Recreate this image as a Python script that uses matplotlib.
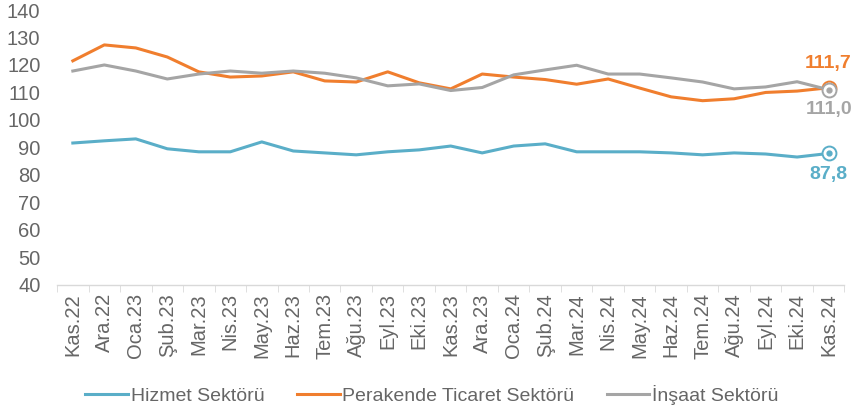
import matplotlib
matplotlib.use("Agg")
import matplotlib.pyplot as plt

plt.rcParams["font.family"] = ["Liberation Sans", "DejaVu Sans"]

months = ["Kas.22", "Ara.22", "Oca.23", "Şub.23", "Mar.23", "Nis.23", "May.23", "Haz.23",
          "Tem.23", "Ağu.23", "Eyl.23", "Eki.23", "Kas.23", "Ara.23", "Oca.24", "Şub.24",
          "Mar.24", "Nis.24", "May.24", "Haz.24", "Tem.24", "Ağu.24", "Eyl.24", "Eki.24", "Kas.24"]

hizmet = [91.6, 92.4, 93.1, 89.5, 88.4, 88.4, 92.0, 88.7, 88.0, 87.3, 88.4, 89.1, 90.5,
          88.0, 90.5, 91.3, 88.4, 88.4, 88.4, 88.0, 87.3, 88.0, 87.6, 86.5, 87.8]
perakende = [121.5, 127.3, 126.2, 122.9, 117.5, 115.6, 116.0, 117.5, 114.2, 113.8, 117.5, 113.5, 111.3,
             116.7, 115.6, 114.7, 113.0, 114.9, 111.6, 108.4, 107.0, 107.7, 110.0, 110.5, 111.7]
insaat = [117.8, 120.0, 117.8, 114.9, 116.7, 117.8, 117.0, 117.8, 117.0, 115.3, 112.4, 113.1, 110.7,
          111.8, 116.4, 118.2, 119.9, 116.7, 116.7, 115.3, 113.8, 111.3, 112.0, 113.9, 111.0]

series = [
    ("Hizmet Sektörü", hizmet, "#5AAEC8"),
    ("Perakende Ticaret Sektörü", perakende, "#F07E2E"),
    ("İnşaat Sektörü", insaat, "#A5A5A5"),
]
label_color = "#666666"

fig = plt.figure(figsize=(8.52, 4.17), dpi=100)
ax = fig.add_axes([0.067, 0.317, 0.924, 0.659])

x = list(range(len(months)))
for name, vals, color in series:
    ax.plot(x, vals, color=color, lw=2.2, label=name)
    # end marker: ring with a dot inside
    ax.plot(x[-1], vals[-1], marker="o", ms=10, mfc="white", mec=color, mew=1.4)
    ax.plot(x[-1], vals[-1], marker="o", ms=3.5, color=color)

ax.annotate("111,7", (x[-1], perakende[-1]), xytext=(0, 11), textcoords="offset points",
            ha="center", va="bottom", color="#F07E2E", fontsize=14, fontweight="bold")
ax.annotate("111,0", (x[-1], insaat[-1]), xytext=(0, -8), textcoords="offset points",
            ha="center", va="top", color="#A5A5A5", fontsize=14, fontweight="bold")
ax.annotate("87,8", (x[-1], hizmet[-1]), xytext=(0, -9), textcoords="offset points",
            ha="center", va="top", color="#5AAEC8", fontsize=14, fontweight="bold")

ax.set_xlim(-0.5, len(months) - 0.5)
ax.set_ylim(40, 140)
ax.set_yticks(range(40, 141, 10))
ax.set_xticks(x)
ax.set_xticklabels(months, rotation=90)
ax.set_xticks([i - 0.5 for i in range(len(months) + 1)], minor=True)
ax.tick_params(axis="x", which="major", length=0, pad=6, labelsize=14.5, labelcolor=label_color)
ax.tick_params(axis="x", which="minor", length=5, color="#D9D9D9", direction="out")
ax.tick_params(axis="y", length=0, labelsize=14.5, labelcolor=label_color, pad=12)

for side in ["top", "right", "left"]:
    ax.spines[side].set_visible(False)
ax.spines["bottom"].set_color("#D9D9D9")
ax.spines["bottom"].set_linewidth(1)

leg = fig.legend(loc="lower center", bbox_to_anchor=(0.507, -0.012), ncol=3, frameon=False,
                 fontsize=14, handlelength=2.2, handletextpad=0.15, columnspacing=1.65)
for t in leg.get_texts():
    t.set_color(label_color)

fig.savefig("out.png", dpi=100)
